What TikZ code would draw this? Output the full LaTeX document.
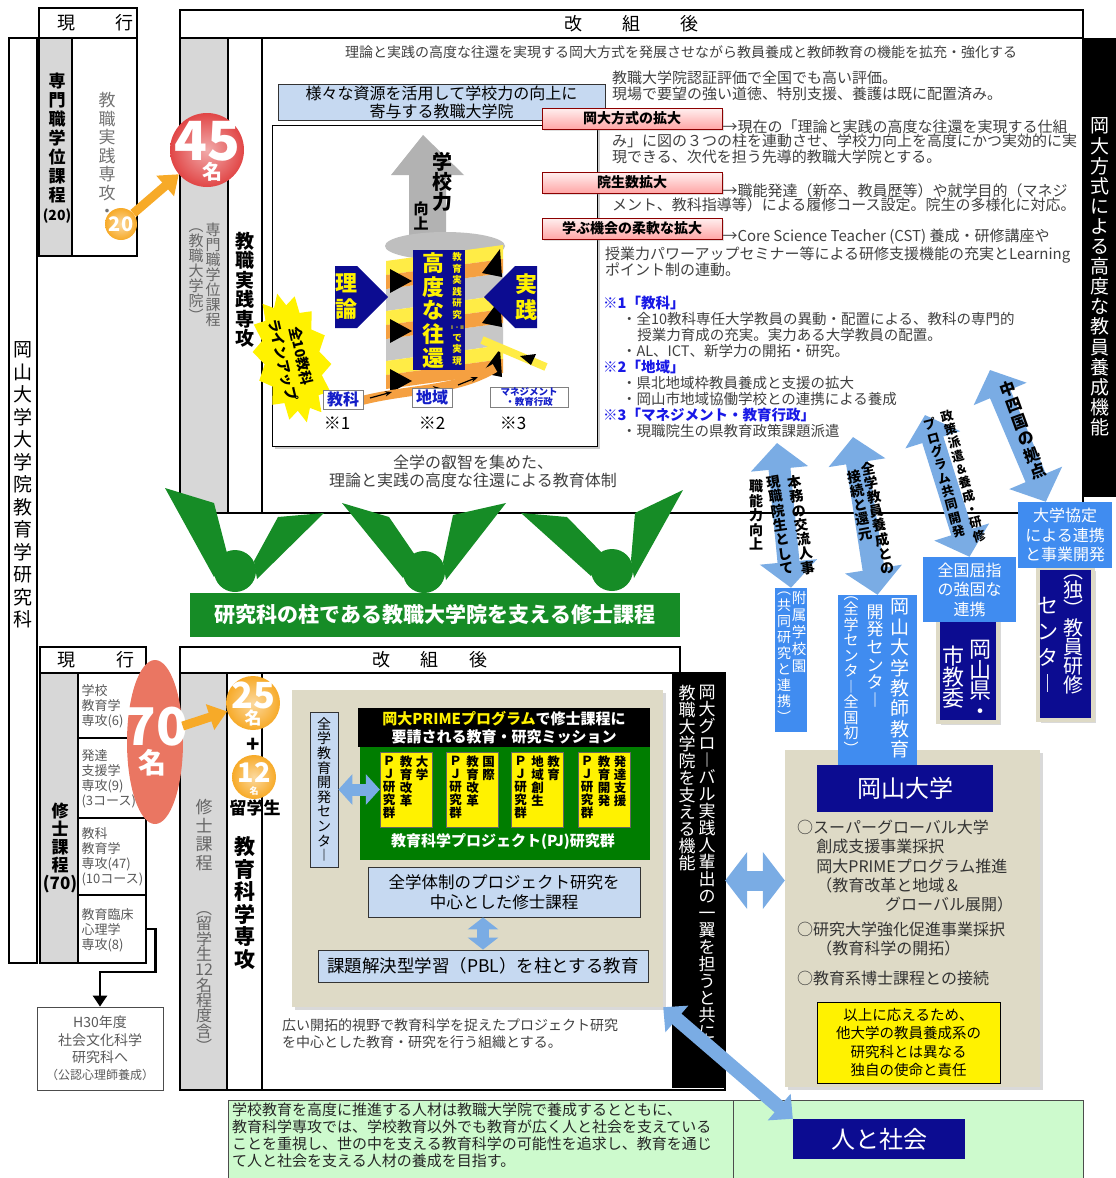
\documentclass[tikz,border=0pt]{standalone}
\usepackage{fontspec}
\setmainfont{Noto Sans CJK JP}
\usetikzlibrary{arrows.meta}
\usetikzlibrary{shapes.geometric}
\usetikzlibrary{shapes.symbols}
\usetikzlibrary{shadows}
\definecolor{colgray}{RGB}{215,215,215}
\definecolor{textgray}{RGB}{64,64,64}
\definecolor{boxblue}{RGB}{198,217,241}
\definecolor{navyblue}{RGB}{12,12,145}
\definecolor{midblue}{RGB}{64,140,240}
\definecolor{arrowblue}{RGB}{122,172,228}
\definecolor{vgreen}{RGB}{22,140,38}
\definecolor{pjgreen}{RGB}{0,125,0}
\definecolor{beige}{RGB}{222,218,198}
\definecolor{mintgreen}{RGB}{205,250,205}
\definecolor{ribbony}{RGB}{255,236,70}
\definecolor{ribbono}{RGB}{245,160,65}
\definecolor{arrorange}{RGB}{247,170,40}
\definecolor{ballred}{RGB}{225,70,70}
\definecolor{salmon}{RGB}{234,118,98}
\definecolor{noteblue}{RGB}{25,25,230}
\definecolor{labelblue}{RGB}{20,30,200}
\newcommand\fsz[2]{\fontsize{#1}{#2}\selectfont}
% vertical (tate) text: one character per line
\ExplSyntaxOn
\seq_new:N \l_tate_items_seq
\NewDocumentCommand \tate { m }
  {
    \seq_clear:N \l_tate_items_seq
    \tl_map_inline:nn {#1} { \seq_put_right:Nn \l_tate_items_seq {##1} }
    \seq_use:Nn \l_tate_items_seq { \\ }
  }
\ExplSyntaxOff
\tikzset{
  thickframe/.style={draw=black, line width=1.5pt},
  headbox/.style={draw=black, line width=1.5pt, fill=white, inner sep=0pt, font=\fsz{18}{20}},
  tatecol/.style={align=center, inner sep=0pt},
  bodytext/.style={anchor=north west, inner sep=0pt, align=left, text=textgray, font=\fsz{15}{16.5}},
  lightbox/.style={draw=black!80, fill=boxblue, line width=0.8pt, align=center, inner sep=0pt},
  pinktag/.style={draw=red!55!black, line width=0.6pt, top color=red!6, bottom color=red!35,
    minimum width=180, minimum height=21, inner sep=0pt, font=\fsz{14}{16}\bfseries,
    drop shadow={opacity=0.25, shadow xshift=2pt, shadow yshift=-2pt}},
  navybox/.style={fill=navyblue, text=white, inner sep=0pt},
  midbox/.style={fill=midblue, text=white, inner sep=0pt},
  shadowbox/.style={fill=beige, drop shadow={opacity=0.3, shadow xshift=3pt, shadow yshift=-3pt}},
  cellbox/.style={draw=black, line width=1.2pt, minimum width=68, inner sep=0pt},
  celltext/.style={anchor=west, inner sep=0pt, align=left, text=black!65, font=\fsz{13}{15}},
  glossy/.style={circle, inner sep=0pt, shading=radial, inner color=#1!45!white, outer color=#1},
  dblarrow/.style n args={3}{draw=arrowblue, line width=#1,
    {Triangle[width=#2,length=#3]}-{Triangle[width=#2,length=#3]}},
  orangearrow/.style={draw=arrorange, line width=9pt, -{Triangle[width=26pt,length=18pt]}},
  arrowtext/.style={tatecol, font=\fsz{14}{14.5}\bfseries},
  tagtext/.style={anchor=north west, inner sep=0pt, align=left, text=black!80, font=\fsz{16}{19.25}},
}
\begin{document}
\begin{tikzpicture}[x=1pt, y=-1pt]
  \useasboundingbox (0,0) rectangle (1116,1178);

  % whole graduate school
  \draw[thickframe] (9,38) rectangle (37,963);
  \node[tatecol, font=\fsz{19}{22.5}] (gradschool) at (23,485) {\tate{岡山大学大学院教育学研究科}};

  % ---- upper part: current
  \node[headbox, minimum width=98, minimum height=30] (oldhead) at (88,23) {\hspace{0.8em}現\hspace{2.2em}行};
  \fill[colgray] (39,38) rectangle (72,256);
  \draw[thickframe] (39,38) rectangle (137,256) (72,38) -- (72,256);
  \node[tatecol, font=\fsz{17}{19}\bfseries] (oldprof) at (57,148) {\tate{専門職学位課程{\fsz{14}{14}(20)}}};
  \node[tatecol, text=black!55, font=\fsz{17}{18.5}] (oldmajor) at (107,155) {\tate{教職実践専攻・}};
  \node[glossy=arrorange, minimum size=32, text=white, font=\fsz{20}{20}\bfseries] (old20) at (121,224) {20};

  % ---- upper part: after reorganisation
  \node[headbox, minimum width=903, minimum height=28] (newhead) at (631.5,24) {改\hspace{2.2em}組\hspace{2.2em}後};
  \fill[colgray] (180,38) rectangle (228,513);
  \draw[thickframe] (180,38) rectangle (1083,513) (228,38) -- (228,513) (262,38) -- (262,513);
  \node[tatecol, text=black!60, font=\fsz{15}{15}] (newprof) at (213,275) {\tate{専門職学位課程}};
  \node[tatecol, text=black!60, font=\fsz{15}{15}] (newprofsub) at (196,275) {\tate{︵教職大学院︶}};
  \node[tatecol, font=\fsz{19}{19.5}\bfseries] (newmajor) at (245,290) {\tate{教職実践専攻}};
  \fill[black] (1083,38) rectangle (1116,497);
  \node[tatecol, text=white, font=\fsz{19}{20.1}] (okadaiway) at (1099.5,277) {\tate{岡大方式による高度な教員養成機能}};

  \node[text=textgray, font=\fsz{14}{16}] (intro) at (681,52) {理論と実践の高度な往還を実現する岡大方式を発展させながら教員養成と教師教育の機能を拡充・強化する};
  \node[lightbox, minimum width=327, minimum height=36, font=\fsz{16}{18}] (resource) at (441.5,102) {様々な資源を活用して学校力の向上に\\寄与する教職大学院};

  % spiral picture
  \node[draw=black, line width=1pt, fill=white, minimum width=325, minimum height=321,
    drop shadow={opacity=0.4, shadow xshift=3pt, shadow yshift=-3pt}] (spiral) at (434.5,285.5) {};
  \fill[black!30] (423,135) -- (464,175) -- (446,175) -- (446,240) -- (409,240) -- (409,175) -- (391,175) -- cycle;
  \fill[black!25] (445,246) ellipse [x radius=60, y radius=14];
  \foreach \y in {245,295} {
    \fill[black!22] (386,\y+44) -- (503,\y+28) -- (503,\y+50) -- (386,\y+66) -- cycle;
  }
  \foreach \y in {245,295,345} {
    \fill[ribbony] (386,\y+16) -- (503,\y) -- (503,\y+14) -- (386,\y+30) -- cycle;
    \fill[ribbono] (386,\y+30) -- (503,\y+14) -- (503,\y+28) -- (386,\y+44) -- cycle;
    \fill[black] (390,\y+24) -- (412,\y+36) -- (390,\y+48) -- cycle;
    \fill[black] (482,\y+28) -- (500,\y+4) -- (502,\y+32) -- cycle;
  }
  \draw[ribbono, line width=9pt] (360,401) .. controls (410,388) and (455,392) .. (495,368);
  \draw[ribbony, line width=8pt] (482,340) -- (546,367);
  \fill[black] (520,356) -- (536,354) -- (531,365) -- cycle;
  \foreach \sx/\sy/\ex/\ey in {370/398/392/392, 418/390/440/388, 458/385/478/377} {
    \draw[-{Stealth[length=7pt]}, line width=1.2pt] (\sx,\sy) -- (\ex,\ey);
  }
  \node[navybox, minimum width=52, minimum height=120] (roundtrip) at (439,310) {};
  \node[tatecol, text=yellow, font=\fsz{22}{23.75}\bfseries] (kodo) at (433,310.5) {\tate{高度な往還}};
  \node[tatecol, text=yellow, font=\fsz{9.5}{11.5}\bfseries] (kenkyu) at (457,309) {\tate{教育実践研究{\fsz{5}{6}Ⅰ・Ⅱ}で実現}};
  \node[tatecol, font=\fsz{20}{19}\bfseries] (schoolpower) at (442,182) {\tate{学校力}};
  \node[tatecol, font=\fsz{15}{14}\bfseries] (improve) at (421,216) {\tate{向上}};
  \node[signal, signal to=east, fill=navyblue, text=yellow, minimum width=44, minimum height=62,
    inner sep=0pt, align=center, font=\fsz{22}{26}\bfseries] (theory) at (346,297) {理\\論};
  \node[signal, signal to=west, fill=navyblue, text=yellow, minimum width=44, minimum height=62,
    inner sep=0pt, align=center, font=\fsz{22}{26}\bfseries] (practice) at (526,297) {実\\践};
  \fill[yellow, shift={(292,358)}, rotate=-77] plot[samples at={0,...,27}, variable=\k]
    ({(mod(\k,2)==0 ? 66 : 54)*cos(\k*360/28)}, {(mod(\k,2)==0 ? 38 : 28)*sin(\k*360/28)}) -- cycle;
  \node[rotate=-77, align=center, inner sep=0pt, font=\fsz{14}{18.5}\bfseries] (lineup) at (292,358) {全10教科\\ラインアップ};
  \node[draw=black!50, fill=white, text=labelblue, minimum width=40, minimum height=19, inner sep=0pt,
    font=\fsz{16}{16}\bfseries] (kyoka) at (343,399.5) {教科};
  \node[draw=black!50, fill=white, text=labelblue, minimum width=40, minimum height=19, inner sep=0pt,
    font=\fsz{16}{16}\bfseries] (chiiki) at (432,397.5) {地域};
  \node[draw=black!50, fill=white, text=labelblue, minimum width=78, minimum height=20, inner sep=0pt,
    align=center, font=\fsz{9.5}{9.5}\bfseries] (mgmt) at (529,397) {マネジメント\\・教育行政};
  \node[font=\fsz{17}{17}] (note1) at (337,423) {※1};
  \node[font=\fsz{17}{17}] (note2) at (432,423) {※2};
  \node[font=\fsz{17}{17}] (note3) at (513,423) {※3};
  \node[text=textgray, align=center, font=\fsz{16}{18}] (wisdom) at (473,471) {全学の叡智を集めた、\\理論と実践の高度な往還による教育体制};

  % three expansion tags
  \node[bodytext] (evalnote) at (612,70.5) {教職大学院認証評価で全国でも高い評価。\\現場で要望の強い道徳、特別支援、養護は既に配置済み。};
  \node[pinktag] (tagA) at (632,118.5) {岡大方式の拡大};
  \node[pinktag] (tagB) at (632,182.5) {院生数拡大};
  \node[pinktag] (tagC) at (632,228.5) {学ぶ機会の柔軟な拡大};
  \node[bodytext, anchor=west] (tagAtext) at ([yshift=3pt]tagA.south east) {→現在の「理論と実践の高度な往還を実現する仕組};
  \node[bodytext] (tagAmore) at (612,133.5) {み」に図の３つの柱を連動させ、学校力向上を高度にかつ実効的に実\\現できる、次代を担う先導的教職大学院とする。};
  \node[bodytext, anchor=west] (tagBtext) at ([yshift=3pt]tagB.south east) {→職能発達（新卒、教員歴等）や就学目的（マネジ};
  \node[bodytext] (tagBmore) at (612,197.5) {メント、教科指導等）による履修コース設定。院生の多様化に対応。};
  \node[bodytext, anchor=west] (tagCtext) at ([yshift=3pt]tagC.south east) {→Core Science Teacher (CST) 養成・研修講座や};
  \node[bodytext] (tagCmore) at (605,246.5) {授業力パワーアップセミナー等による研修支援機能の充実とLearning\\ポイント制の連動。};
  \node[bodytext, font=\fsz{14.5}{16.1}] (notes) at (603,295.5) {%
    {\color{noteblue}\bfseries ※1「教科」}\\%
    \hspace{1.3em}・全10教科専任大学教員の異動・配置による、教科の専門的\\%
    \hspace{2.35em}授業力育成の充実。実力ある大学教員の配置。\\%
    \hspace{1.3em}・AL、ICT、新学力の開拓・研究。\\%
    {\color{noteblue}\bfseries ※2「地域」}\\%
    \hspace{1.3em}・県北地域枠教員養成と支援の拡大\\%
    \hspace{1.3em}・岡山市地域協働学校との連携による養成\\%
    {\color{noteblue}\bfseries ※3「マネジメント・教育行政」}\\%
    \hspace{1.3em}・現職院生の県教育政策課題派遣};

  % university (drawn before the centre box that overlaps it)
  \node[shadowbox, minimum width=255, minimum height=337] (univ) at (912.5,918.5) {};
  \node[navybox, minimum width=176, minimum height=47, font=\fsz{24}{24}] (univname) at (905,788.5) {岡山大学};
  \node[tagtext] (sgu) at (797,820) {○スーパーグローバル大学\\\hspace{1.2em}創成支援事業採択\\\hspace{1.2em}岡大PRIMEプログラム推進\\\hspace{1.2em}（教育改革と地域＆\\\hspace{5.5em}グローバル展開）};
  \node[tagtext] (rsu) at (797,922) {○研究大学強化促進事業採択\\\hspace{1.2em}（教育科学の開拓）};
  \node[tagtext] (doctor) at (797,971) {○教育系博士課程との接続};
  \node[fill=yellow, draw=black, line width=1pt, minimum width=183, minimum height=81, align=center,
    font=\fsz{14.5}{18.5}] (duty) at (908.5,1042.5) {以上に応えるため、\\他大学の教員養成系の\\研究科とは異なる\\独自の使命と責任};

  % partners
  \node[navybox, draw=beige, line width=4pt, minimum width=60, minimum height=120,
    drop shadow={opacity=0.3, shadow xshift=3pt, shadow yshift=-3pt}] (ken) at (968,662) {};
  \node[tatecol, text=white, font=\fsz{22}{20.5}] (kencol1) at (980,680) {\tate{岡山県・}};
  \node[tatecol, text=white, font=\fsz{22}{20}] (kencol2) at (953,677) {\tate{市教委}};
  \node[midbox, minimum width=93, minimum height=65, align=center, font=\fsz{16}{19.5}] (kenlink) at (969.5,589.5) {全国屈指\\の強固な\\連携};
  \node[navybox, draw=beige, line width=4pt, minimum width=55, minimum height=152,
    drop shadow={opacity=0.3, shadow xshift=3pt, shadow yshift=-3pt}] (nitsc) at (1065.5,644) {};
  \node[tatecol, text=white, font=\fsz{20}{19}] (nitsccol1) at (1073,634) {\tate{︵独︶教員研修}};
  \node[tatecol, text=white, font=\fsz{21}{26}] (nitsccol2) at (1048,645) {\tate{センタ︱}};
  \node[midbox, minimum width=94, minimum height=66, align=center, font=\fsz{16}{19.5}] (unilink) at (1065,535) {大学協定\\による連携\\と事業開発};
  \node[midbox, minimum width=32, minimum height=144] (fuzoku) at (791,660) {};
  \node[tatecol, text=white, font=\fsz{14.5}{17}] (fuzokucol1) at (799,632) {\tate{附属学校園}};
  \node[tatecol, text=white, font=\fsz{14}{16}] (fuzokucol2) at (784,657) {\tate{︵共同研究と連携︶}};
  \node[midbox, minimum width=79, minimum height=170] (tecenter) at (877.5,680) {};
  \node[tatecol, text=white, font=\fsz{19}{20.4}] (tecol1) at (900,678.5) {\tate{岡山大学教師教育}};
  \node[tatecol, text=white, font=\fsz{17}{17.6}] (tecol2) at (875,656) {\tate{開発センタ︱}};
  \node[tatecol, text=white, font=\fsz{15}{15.5}] (tecol3) at (851,675.5) {\tate{︵全学センタ︱全国初︶}};

  \coordinate (ar1) at (777,443);
  \coordinate (ar2) at (853,437);
  \coordinate (ar3) at (925,415);
  \coordinate (ar4) at (990,370);
  \draw[dblarrow={22pt}{56pt}{26pt}] (ar1) -- (fuzoku.north);
  \draw[dblarrow={22pt}{56pt}{26pt}] (ar2) -- (tecenter.north);
  \draw[dblarrow={22pt}{56pt}{26pt}] (ar3) -- (kenlink.north);
  \draw[dblarrow={22pt}{56pt}{26pt}] (ar4) -- (unilink.120);
  \node[arrowtext, rotate=9] (a1col1) at (801,525) {\tate{本務の交流人事}};
  \node[arrowtext, rotate=9] (a1col2) at (780,525) {\tate{現職院生として}};
  \node[arrowtext] (a1side) at (756,515) {\tate{職能力向上}};
  \node[arrowtext, rotate=11] (a2col1) at (878,518) {\tate{全学教員養成との}};
  \node[arrowtext, rotate=11] (a2col2) at (860,505) {\tate{接続と還元}};
  \node[arrowtext, font=\fsz{12.5}{13.8}\bfseries, rotate=15] (a3col1) at (963,476) {\tate{政策派遣＆養成・研修}};
  \node[arrowtext, font=\fsz{12.5}{13.8}\bfseries, rotate=15] (a3col2) at (944,478) {\tate{プログラム共同開発}};
  \node[arrowtext, font=\fsz{16}{17.6}\bfseries, rotate=20] (a4col) at (1023,430) {\tate{中四国の拠点}};

  % green supports
  \foreach \ax/\ay/\bx/\by/\ox/\oy/\cx/\cy/\ex/\ey in {165/488/214/503/235/571/278/517/324/513,
      342/503/389/517/424/572/453/515/506/503, 521/513/567/517/612/570/635/513/683/490} {
    \fill[vgreen] (\ax,\ay) -- (\bx,\by) -- (\ox-7,\oy-14) -- (\ox-21,\oy+6) -- cycle;
    \fill[vgreen] (\ox+19,\oy-10) -- (\cx,\cy) -- (\ex,\ey) -- (\ox+22,\oy+8) -- cycle;
    \fill[vgreen] (\ox,\oy) circle [radius=21];
  }
  \node[fill=vgreen, text=white, minimum width=490, minimum height=44, font=\fsz{21}{21}\bfseries] (pillar) at (435,615) {研究科の柱である教職大学院を支える修士課程};

  % ---- lower part: current
  \node[headbox, minimum width=106, minimum height=26] (oldhead2) at (93,660) {\hspace{0.3em}現\hspace{2.3em}行};
  \fill[colgray] (40,673) rectangle (78,963);
  \draw[thickframe] (40,673) rectangle (146,963) (78,673) -- (78,963);
  \node[tatecol, font=\fsz{17}{18}\bfseries] (oldmaster) at (60,848) {\tate{修士課程{(70)}}};
  \node[cellbox, minimum height=65] (cellA) at (112,705.5) {};
  \node[cellbox, minimum height=80] (cellB) at (112,778) {};
  \node[cellbox, minimum height=77] (cellC) at (112,856.5) {};
  \node[cellbox, minimum height=68] (cellD) at (112,929) {};
  \node[celltext] (cellAtext) at ([xshift=4pt,yshift=-1pt]cellA.west) {学校\\教育学\\専攻(6)};
  \node[celltext] (cellBtext) at ([xshift=4pt,yshift=-1pt]cellB.west) {発達\\支援学\\専攻(9)\\(3コース)};
  \node[celltext] (cellCtext) at ([xshift=4pt]cellC.west) {教科\\教育学\\専攻(47)\\(10コース)};
  \node[celltext] (cellDtext) at ([xshift=4pt,yshift=-1pt]cellD.west) {教育臨床\\心理学\\専攻(8)};
  \node[draw=black!70, line width=0.8pt, minimum width=126, minimum height=83, align=center, text=black!65,
    font=\fsz{14}{17.3}] (h30) at (100,1048.5) {H30年度\\社会文化科学\\研究科へ\\{\fsz{12}{14}（公認心理師養成）}};
  \draw[line width=2.5pt, -{Triangle[width=14pt,length=11pt]}] (cellD.east) -- ++(9,0) -- ++(0,43) -| (h30.north);

  % ---- lower part: after reorganisation
  \node[headbox, minimum width=500, minimum height=26] (newhead2) at (430,660) {改\hspace{1.7em}組\hspace{1.7em}後};
  \fill[colgray] (180,673) rectangle (227,1090);
  \draw[thickframe] (180,673) rectangle (725,1090) (227,673) -- (227,1090) (262,673) -- (262,1090);
  \node[tatecol, text=black!60, font=\fsz{17}{18.5}] (newmaster) at (204,835) {\tate{修士課程}};
  \node[tatecol, text=black!60, font=\fsz{16}{15.3}] (newmastersub) at (204,982) {\tate{︵留学生{12}名程度含︶}};
  \node[tatecol, font=\fsz{21}{22.6}\bfseries] (edsci) at (245,903) {\tate{教育科学専攻}};

  \node[shadowbox, minimum width=371, minimum height=317] (bgbox) at (477.5,848.5) {};
  \node[lightbox, minimum width=28, minimum height=155, font=\fsz{14}{14.6}] (ctr) at (324,789.5) {\tate{全学教育開発センタ︱}};
  \node[fill=black, text=white, minimum width=292, minimum height=39, align=center, inner sep=0pt,
    font=\fsz{15}{17.5}\bfseries] (prime) at (504,727.5) {{\color{yellow}岡大PRIMEプログラム}で修士課程に\\要請される教育・研究ミッション};
  \node[fill=pjgreen, minimum width=290, minimum height=113] (pjgroup) at (505,803.5) {};
  \node[text=white, font=\fsz{15}{15}\bfseries] (pjlabel) at (503,842) {教育科学プロジェクト(PJ)研究群};
  \foreach \i/\bx/\mcol/\rcol in {1/406/教育改革/大学, 2/472.5/教育改革/国際, 3/537.5/地域創生/教育, 4/604/教育開発/発達支援} {
    \node[fill=yellow, draw=black!60, minimum width=52, minimum height=75] (pj\i) at (\bx,789.5) {};
    \node[tatecol, anchor=north, font=\fsz{12.5}{13}\bfseries] (pj\i l) at (\bx-17,756) {\tate{ＰＪ研究群}};
    \node[tatecol, anchor=north, font=\fsz{12.5}{13}\bfseries] (pj\i m) at (\bx,756) {\expandafter\tate\expandafter{\mcol}};
    \node[tatecol, anchor=north, font=\fsz{12.5}{13}\bfseries] (pj\i r) at (\bx+16,756) {\expandafter\tate\expandafter{\rcol}};
  }
  \draw[dblarrow={12pt}{30pt}{14pt}] (ctr.east) -- (pj1.west);
  \node[lightbox, minimum width=272, minimum height=50, font=\fsz{16.5}{20}] (core) at (504,892) {全学体制のプロジェクト研究を\\中心とした修士課程};
  \node[lightbox, minimum width=330, minimum height=32, font=\fsz{17.5}{18}] (pbl) at (483,966) {課題解決型学習（PBL）を柱とする教育};
  \draw[dblarrow={12pt}{30pt}{12pt}] (pbl.north |- core.south) -- (pbl.north);
  \node[bodytext, font=\fsz{14}{17}] (orgnote) at (282,1018) {広い開拓的視野で教育科学を捉えたプロジェクト研究\\を中心とした教育・研究を行う組織とする。};

  \node[fill=black, minimum width=53, minimum height=415] (globalbar) at (698.5,880.5) {};
  \node[tatecol, text=white, font=\fsz{17}{17}] (globalcol1) at (707,862.5) {\tate{岡大グロ︱バル実践人輩出の一翼を担うと共に}};
  \node[tatecol, text=white, font=\fsz{17}{17}] (globalcol2) at (687,778) {\tate{教職大学院を支える機能}};
  \draw[dblarrow={20pt}{56pt}{22pt}] (globalbar.east) -- (globalbar.east -| univ.west);

  % numbers of students
  \node[glossy=ballred, minimum size=74] (new45) at (207,150) {};
  \node[text=white, font=\fsz{54}{54}\bfseries, inner sep=0pt] (num45) at (207,141) {45};
  \node[text=white, font=\fsz{20}{20}\bfseries, inner sep=0pt] (mei45) at (212,172) {名};
  \draw[orangearrow] (old20) -- (new45);
  \node[ellipse, fill=salmon, minimum width=56, minimum height=164] (old70) at (155,742) {};
  \node[text=white, font=\fsz{52}{52}\bfseries, inner sep=0pt] (num70) at (156,727) {70};
  \node[text=white, font=\fsz{28}{28}\bfseries, inner sep=0pt] (mei70) at (152,763) {名};
  \node[glossy=arrorange, minimum size=54] (new25) at (253,703) {};
  \node[text=white, font=\fsz{36}{36}\bfseries, inner sep=0pt] (num25) at (253,695) {25};
  \node[text=white, font=\fsz{17}{17}\bfseries, inner sep=0pt] (mei25) at (253,718) {名};
  \node[font=\fsz{22}{22}\bfseries, inner sep=0pt] (plus) at (253,745) {+};
  \node[glossy=arrorange, minimum size=44] (new12) at (254,777) {};
  \node[text=white, font=\fsz{27}{27}\bfseries, inner sep=0pt] (num12) at (254,772) {12};
  \node[text=white, font=\fsz{9}{9}\bfseries, inner sep=0pt] (mei12) at (254,791) {名};
  \node[font=\fsz{17}{17}\bfseries, inner sep=0pt] (intl) at (255,808) {留学生};
  \draw[orangearrow] (old70.30) -- (new25);

  % people and society
  \node[fill=mintgreen, draw=black!70, minimum width=505, minimum height=80, anchor=north west] (missionleft) at (228,1100) {};
  \node[fill=mintgreen, draw=black!70, minimum width=350, minimum height=80, anchor=north west] (missionright) at (733,1100) {};
  \node[bodytext, text=black!85, font=\fsz{15}{17}] (missiontext) at (232,1103) {学校教育を高度に推進する人材は教職大学院で養成するとともに、\\教育科学専攻では、学校教育以外でも教育が広く人と社会を支えている\\ことを重視し、世の中を支える教育科学の可能性を追求し、教育を通じ\\て人と社会を支える人材の養成を目指す。};
  \node[navybox, minimum width=172, minimum height=40, font=\fsz{24}{24}] (society) at (879,1139) {人と社会};
  \draw[dblarrow={14pt}{34pt}{18pt}] (bgbox.south east) -- (society.north west);
\end{tikzpicture}
\end{document}
